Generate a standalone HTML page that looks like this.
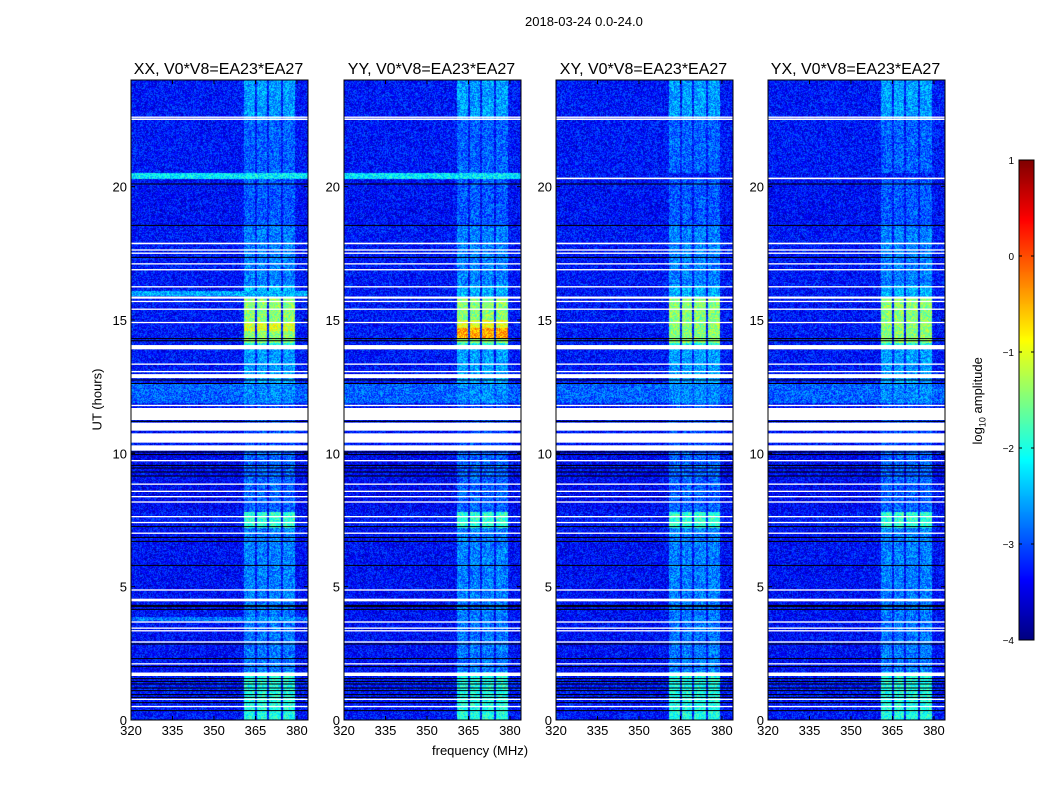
<!DOCTYPE html>
<html><head><meta charset="utf-8"><style>
body{margin:0;background:#fff;font-family:"Liberation Sans",sans-serif;}
#root{position:relative;width:1050px;height:800px;overflow:hidden;}
.t{position:absolute;font-size:13px;color:#000;white-space:nowrap;}
canvas{position:absolute;}
</style></head><body>
<div id="root">
<div class="t" style="left:525px;top:14px;">2018-03-24 0.0-24.0</div>
<div class="t" style="left:432px;top:743px;">frequency (MHz)</div>
<div class="t" style="left:66px;top:392px;transform:rotate(-90deg);">UT (hours)</div>
<div class="t" style="left:935px;top:392px;transform:rotate(-90deg);">log<sub style="font-size:9px">10</sub> amplitude</div>
<svg id="svg" width="1050" height="800" style="position:absolute;left:0;top:0"></svg>
</div>
<script>
// ---- data ----
const panelNames = ["XX, V0*V8=EA23*EA27","YY, V0*V8=EA23*EA27","XY, V0*V8=EA23*EA27","YX, V0*V8=EA23*EA27"];
const freqTicks = [320,335,350,365,380];
const hourTicks = [0,5,10,15,20];
const cbTicks = [1,0,-1,-2,-3,-4];
const stripFreqs = [[360.8,364.8],[365.7,369.3],[370,374.3],[375,379.3]];
// time segments: [startHour, endHour, background log-amp, strip log-amp]
const segments = [
 [22.5,24,-3.3,-2.6],[20.5,22.5,-3.3,-2.9],[18.5,20.3,-3.35,-2.95],[16.3,18.5,-3.3,-2.75],
 [15.85,16.3,-3.3,-2.5],[14.15,15.85,-3.3,-1.45],[13.9,14.15,-3.3,-2.0],[12.6,13.9,-3.3,-2.6],
 [11.9,12.6,-2.9,-2.7],[10.1,11.9,-3.3,-3.0],[7.8,10.1,-3.4,-2.9],[7.2,7.8,-3.3,-1.9],
 [4.5,7.2,-3.35,-2.75],[1.8,4.5,-3.35,-2.8],[0,1.8,-3.3,-2.0]
];
// panel overrides: [panel, startHour, endHour, bg, strip]
const overrides = [
 [0,20.3,20.5,-2.2,-2.2],[1,20.3,20.5,-2.2,-2.2],[0,15.9,16.1,-2.5,-2.5],
 [0,14.6,14.9,-3.3,-1.05],[1,14.3,14.7,-3.3,-0.45],[1,14.7,15.0,-3.3,-1.0],[0,3.7,3.85,-2.8,-2.6]
];
const whiteFlags = [[22.5,22.56],[22.58,22.63],[17.84,17.9],[17.6,17.65],[17.48,17.53],[17.08,17.13],[16.86,16.91],
 [16.22,16.27],[15.8,15.88],[15.67,15.72],[15.38,15.43],[14.88,14.93],[13.9,14.06],[13.32,13.37],[13.04,13.09],
 [12.82,12.97],[11.77,11.82],[11.25,11.7],[10.85,11.15],[10.4,10.75],[10.1,10.3],[9.7,9.75],[8.82,8.87],
 [8.55,8.6],[8.35,8.4],[8.15,8.2],[7.6,7.65],[7.38,7.43],[6.98,7.03],[4.85,4.9],[4.45,4.55],[3.65,3.7],
 [3.42,3.47],[3.32,3.37],[2.9,2.95],[2.08,2.13],[1.65,1.78],[0.75,0.8],[0.48,0.53]];
const blackLines = [20.1,18.55,17.35,14.3,14.22,12.75,12.62,11.2,10.05,9.95,9.55,9.45,9.3,9.15,7.25,
 6.85,6.7,5.8,4.3,4.25,4.15,2.85,2.3,2.0,1.55,1.45,1.35,1.2,1.1,0.95,0.85,0.65,0.35];
const panelWhite = [[2,20.28,20.34],[3,20.28,20.34]];
// ---- layout ----
const X0=[131,344,556,768], W=177, Y0=80, Y1=720;
const fx=(p,f)=>X0[p]+(f-320)/64*W;
const hy=h=>Y1-(h/24)*(Y1-Y0);
function jet(v){let t=(v+4)/5;t=Math.max(0,Math.min(1,t));
 const c=x=>Math.max(0,Math.min(1,x));
 return [c(1.5-Math.abs(4*t-3)),c(1.5-Math.abs(4*t-2)),c(1.5-Math.abs(4*t-1))].map(x=>Math.round(x*255));}
function hash(a,b){let h=(a*374761393+b*668265263)|0;h=(h^(h>>>13))*1274126177|0;return ((h^(h>>>16))>>>0)/4294967296;}
const root=document.getElementById('root'), svg=document.getElementById('svg');
const NS='http://www.w3.org/2000/svg';
function sv(tag,attrs){const e=document.createElementNS(NS,tag);for(const k in attrs)e.setAttribute(k,attrs[k]);svg.appendChild(e);return e;}
function txt(x,y,s,anchor,size){const e=sv('text',{x:x,y:y,'text-anchor':anchor,'font-size':size||13,'font-family':'Liberation Sans, sans-serif'});e.textContent=s;return e;}
for(let p=0;p<4;p++){
 const cv=document.createElement('canvas');cv.width=W;cv.height=Y1-Y0;cv.style.left=X0[p]+'px';cv.style.top=Y0+'px';
 
 
 root.insertBefore(cv,svg);
 const ctx=cv.getContext('2d');const img=ctx.createImageData(W,Y1-Y0);
 for(let y=0;y<Y1-Y0;y++){
  const h=24*(1-(y+0.5)/(Y1-Y0));
  let seg=segments.find(s=>h>=s[0]&&h<s[1])||[0,0,-3.3,-3.3];
  let bg=seg[2],st=seg[3];
  overrides.forEach(o=>{if(o[0]===p&&h>=o[1]&&h<o[2]){bg=o[3];st=o[4];}});
  for(let x=0;x<W;x++){
   const f=320+(x+0.5)/W*64;
   let v=bg;
   if(stripFreqs.some(s=>f>=s[0]&&f<=s[1]))v=st;
   if(f>379.5)v=Math.min(v,bg+0.3);
   v+= (hash(x+p*1000,y)-0.5)*0.9;
   const c=jet(v),i=(y*W+x)*4;img.data[i]=c[0];img.data[i+1]=c[1];img.data[i+2]=c[2];img.data[i+3]=255;
  }
 }
 ctx.putImageData(img,0,0);
 whiteFlags.forEach(w=>{const r=sv('rect',{x:X0[p],y:hy(w[1]),width:W,height:Math.max(1.2,hy(w[0])-hy(w[1])),fill:'#fff'});
  
  });
 panelWhite.forEach(w=>{if(w[0]!==p)return;const r=sv('rect',{x:X0[p],y:hy(w[2]),width:W,height:hy(w[1])-hy(w[2]),fill:'#fff'});
  
  });
 blackLines.forEach(b=>{const l=sv('line',{x1:X0[p],x2:X0[p]+W,y1:hy(b),y2:hy(b),stroke:'#000','stroke-width':1});
  
  });
 const fr=sv('rect',{x:X0[p],y:Y0,width:W,height:Y1-Y0,fill:'none',stroke:'#000','stroke-width':1});
 
 
 const ti=txt(X0[p]+W/2-1,74,panelNames[p],'middle',16);
 
 
 freqTicks.forEach(f=>{const x=fx(p,f);
  sv('line',{x1:x,x2:x,y1:Y1,y2:Y1-4,stroke:'#000'});sv('line',{x1:x,x2:x,y1:Y0,y2:Y0+4,stroke:'#000'});
  const t=txt(x,735,String(f),'middle');
  
  });
 hourTicks.forEach(h=>{const y=hy(h);
  sv('line',{x1:X0[p],x2:X0[p]+4,y1:y,y2:y,stroke:'#000'});sv('line',{x1:X0[p]+W,x2:X0[p]+W-4,y1:y,y2:y,stroke:'#000'});
  const t=txt(X0[p]-4,y+5,String(h),'end');
  
  });
}
// colorbar
const CB={x:1019,y0:160,y1:640,w:15};
const cbv=document.createElement('canvas');cbv.width=CB.w;cbv.height=CB.y1-CB.y0;cbv.style.left=CB.x+'px';cbv.style.top=CB.y0+'px';


root.insertBefore(cbv,svg);
const cc=cbv.getContext('2d');
for(let y=0;y<CB.y1-CB.y0;y++){const v=1-5*(y+0.5)/(CB.y1-CB.y0);const c=jet(v);cc.fillStyle=`rgb(${c})`;cc.fillRect(0,y,CB.w,1);}
sv('rect',{x:CB.x,y:CB.y0,width:CB.w,height:CB.y1-CB.y0,fill:'none',stroke:'#000'});
cbTicks.forEach(v=>{const y=CB.y0+(1-v)/5*(CB.y1-CB.y0);
 sv('line',{x1:CB.x,x2:CB.x+3,y1:y,y2:y,stroke:'#000'});sv('line',{x1:CB.x+CB.w,x2:CB.x+CB.w-3,y1:y,y2:y,stroke:'#000'});
 const t=txt(CB.x-5,y+4,(v<0?'\u2212':'')+Math.abs(v),'end',10);
 
 });
</script>
</body></html>
